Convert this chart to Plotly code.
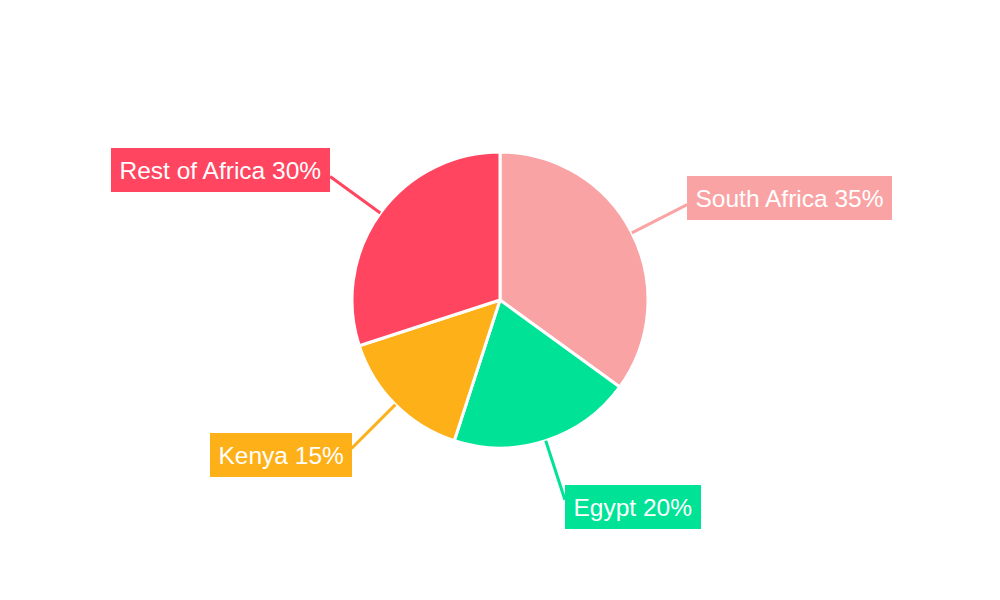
import math
import plotly.graph_objects as go

# Market share by region
regions = ["South Africa", "Egypt", "Kenya", "Rest of Africa"]
shares = [35, 20, 15, 30]
colors = ["#F9A3A4", "#00E396", "#FEB019", "#FF4560"]

W, H = 1000, 600
# the page body adds an 8px margin, so everything is laid out 8px up/left
cx, cy = 492, 292      # pie centre, px
radius = 148           # pie radius, px
line_out = 210         # leader line end radius, px

fig = go.Figure(
    go.Pie(
        labels=regions,
        values=shares,
        marker=dict(colors=colors, line=dict(color="white", width=3)),
        sort=False,
        direction="clockwise",
        rotation=0,
        textinfo="none",
        hoverinfo="label+percent",
        domain=dict(x=[(cx - radius) / W, (cx + radius) / W],
                    y=[1 - (cy + radius) / H, 1 - (cy - radius) / H]),
    )
)

# Leader lines and boxed labels, positioned from each slice's mid angle
total = sum(shares)
acc = 0
shapes = []
annotations = []
for name, val, col in zip(regions, shares, colors):
    mid = (acc + val / 2) / total * 2 * math.pi
    acc += val
    dx, dy = math.sin(mid), -math.cos(mid)
    x0, y0 = cx + radius * dx, cy + radius * dy
    x1, y1 = cx + line_out * dx, cy + line_out * dy
    shapes.append(dict(
        type="line", xref="paper", yref="paper",
        x0=x0 / W, y0=1 - y0 / H, x1=x1 / W, y1=1 - y1 / H,
        line=dict(color=col, width=3),
    ))
    pct = round(val / total * 100)
    annotations.append(dict(
        xref="paper", yref="paper",
        x=x1 / W, y=1 - (y1 + 7 * (1 if dy > 0 else -1)) / H,
        xanchor="left" if dx > 0 else "right", yanchor="middle",
        text=f"{name} {pct}%",
        showarrow=False,
        font=dict(family="Liberation Sans, Arial, sans-serif", size=24.5, color="white"),
        bgcolor=col,
        borderpad=8.5,
        borderwidth=0,
    ))

fig.update_layout(
    width=W,
    height=H,
    margin=dict(l=0, r=0, t=0, b=0),
    paper_bgcolor="white",
    plot_bgcolor="white",
    showlegend=False,
    shapes=shapes,
    annotations=annotations,
)

fig.write_html("out.html")
